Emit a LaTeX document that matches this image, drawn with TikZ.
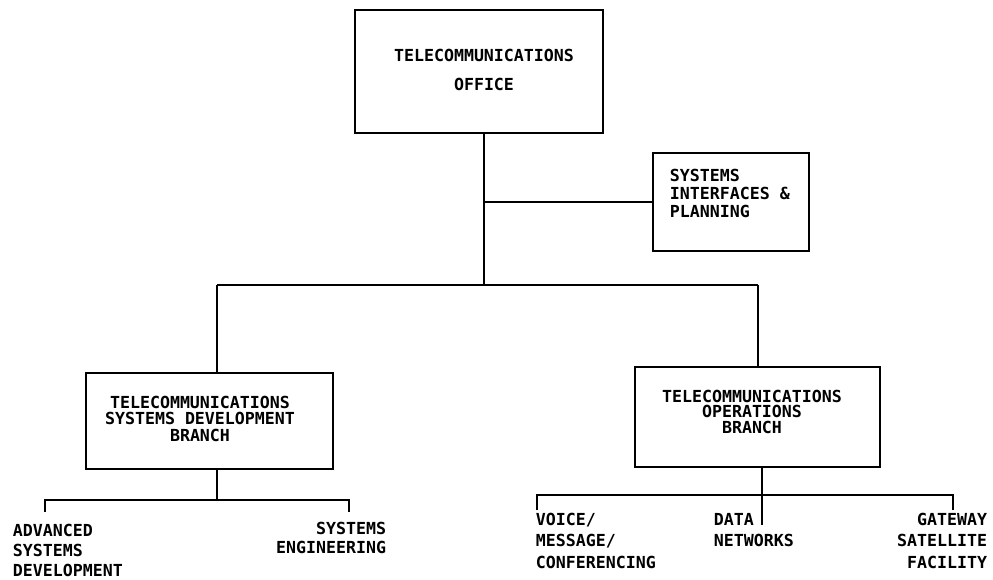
\documentclass[tikz,border=0pt]{standalone}
\usepackage{fontspec}
\newfontfamily\orgfont{DejaVu Sans Mono}
\begin{document}
\begin{tikzpicture}[x=1pt,y=-1pt, line width=1.8pt,
  box/.style={draw, line width=1.8pt, inner sep=0pt},
  lbl/.style={font=\orgfont\bfseries\fontsize{16.6}{#1}\selectfont, inner sep=0pt}]
\useasboundingbox (0,0) rectangle (993,580);
% boxes
\node[box, minimum width=248pt, minimum height=123pt] (office) at (479,71.5) {};
\node[box, minimum width=156pt, minimum height=98pt] (sip) at (731,202) {};
\node[box, minimum width=247pt, minimum height=96pt] (dev) at (209.5,421) {};
\node[box, minimum width=245pt, minimum height=100pt] (ops) at (757.5,417) {};
% box texts
\node[lbl=29, align=center, anchor=north] (officetxt) at (484,48) {TELECOMMUNICATIONS\\OFFICE};
\node[lbl=18, align=left, anchor=north west] (siptxt) at (669,168) {SYSTEMS\\INTERFACES \&\\PLANNING};
\node[lbl=16.7, align=center, anchor=north] (devtxt) at (200,395) {TELECOMMUNICATIONS\\SYSTEMS DEVELOPMENT\\BRANCH};
\node[lbl=15.5, align=center, anchor=north] (opstxt) at (752,389) {TELECOMMUNICATIONS\\OPERATIONS\\BRANCH};
% leaf texts
\node[lbl=20, align=left, anchor=north west] (adv) at (12,523) {ADVANCED\\SYSTEMS\\DEVELOPMENT};
\node[lbl=19.5, align=right, anchor=north east] (syseng) at (387,521) {SYSTEMS\\ENGINEERING};
\node[lbl=21.5, align=left, anchor=north west] (voice) at (535,512) {VOICE/\\MESSAGE/\\CONFERENCING};
\node[lbl=21.5, align=left, anchor=north west] (data) at (713,512) {DATA\\NETWORKS};
\node[lbl=21.5, align=right, anchor=north east] (gate) at (988,512) {GATEWAY\\SATELLITE\\FACILITY};
% coordinates
\coordinate (j1) at (484,202);
\coordinate (bus) at (484,285);
\coordinate (dL) at (217,285);
\coordinate (busR) at (758,285);
\coordinate (dB) at (217,500);
\coordinate (dbL) at (45,500);
\coordinate (dbR) at (349,500);
\coordinate (oB) at (762,495);
\coordinate (obL) at (537,495);
\coordinate (obR) at (953,495);
% connectors
\draw (office.south -| j1) -- (j1) -- (bus);
\draw (j1) -- (sip.west);
\draw (dL) -- (busR);
\draw (dL) -- (dL |- dev.north);
\draw (busR) -- (busR |- ops.north);
\draw (dB |- dev.south) -- (dB);
\draw ([yshift=-12pt]dbL) -- (dbL) -- (dbR) -- ([yshift=-12pt]dbR);
\draw (oB |- ops.south) -- (oB);
\draw ([yshift=-15pt]obL) -- (obL) -- (obR) -- ([yshift=-15pt]obR);
\draw (oB) -- ([yshift=-30pt]oB);
\end{tikzpicture}
\end{document}
